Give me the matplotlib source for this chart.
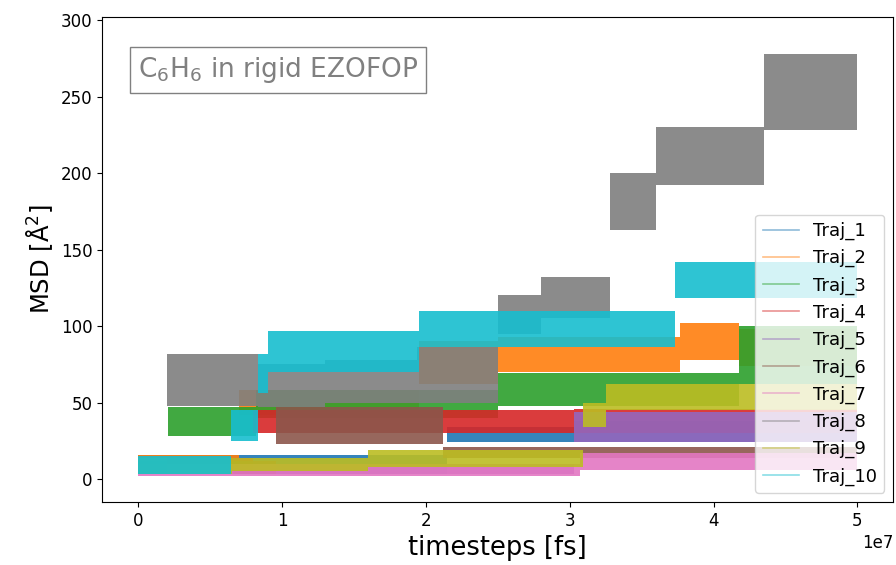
import numpy as np
import matplotlib.pyplot as plt
from matplotlib.lines import Line2D

# plateau edges (units of 1e7 fs) and the lower / upper MSD of each plateau
t1 = [0, 2.15, 3.03, 5.0]
lo1 = [3, 24, 24]
hi1 = [16, 34, 38]

t2 = [0, 0.7, 1.95, 2.5, 3.77, 4.18, 5.0]
lo2 = [4, 42, 62, 70, 78, 74]
hi2 = [16, 58, 90, 93, 102, 98]

t3 = [0, 0.21, 0.82, 2.5, 4.18, 5.0]
lo3 = [3, 28, 40, 48, 62]
hi3 = [14, 47, 58, 69, 100]

t4 = [0, 0.8, 3.03, 5.0]
lo4 = [3, 30, 30]
hi4 = [14, 45, 46]

t5 = [0, 3.03, 5.0]
lo5 = [3, 24]
hi5 = [10, 44]

t6 = [0, 0.96, 2.12, 5.0]
lo6 = [3, 23, 14]
hi6 = [12, 47, 21]

t7 = [0, 3.07, 5.0]
lo7 = [2, 6]
hi7 = [10, 17]

t8 = [0, 0.2, 0.83, 1.3, 1.94, 2.5, 2.8, 3.28, 3.6, 4.35, 5.0]
lo8 = [3, 48, 47, 50, 50, 95, 105, 163, 192, 228]
hi8 = [14, 82, 75, 78, 86, 120, 132, 200, 230, 278]

t9 = [0, 0.65, 1.6, 3.09, 3.25, 5.0]
lo9 = [3, 5, 8, 34, 45]
hi9 = [14, 14, 19, 50, 62]

t10 = [0, 0.645, 0.83, 0.9, 1.95, 3.73, 5.0]
lo10 = [3, 25, 56, 70, 86, 118]
hi10 = [15, 45, 82, 97, 110, 142]

trajs = [(t1, lo1, hi1), (t2, lo2, hi2), (t3, lo3, hi3), (t4, lo4, hi4),
         (t5, lo5, hi5), (t6, lo6, hi6), (t7, lo7, hi7), (t8, lo8, hi8),
         (t9, lo9, hi9), (t10, lo10, hi10)]
labels = ["Traj_%d" % i for i in range(1, 11)]
colors = plt.rcParams['axes.prop_cycle'].by_key()['color']

fig = plt.figure(figsize=(8.96, 5.65), dpi=100)
ax = fig.add_axes([0.114, 0.1115, 0.883, 0.8585])

handles = []
for (t, lo, hi), lab, c in zip(trajs, labels, colors):
    x = np.array(t) * 1e7
    ax.fill_between(x, lo + [lo[-1]], hi + [hi[-1]], step='post',
                    color=c, alpha=0.9, lw=0)
    handles.append(Line2D([], [], color=c, alpha=0.5, lw=1.2, label=lab))

ax.set_xlim(-0.25e7, 5.25e7)
ax.set_ylim(-15, 302)
ax.tick_params(labelsize=12)
ax.xaxis.get_offset_text().set_fontsize(12)
ax.set_xlabel("timesteps [fs]", fontsize=18.5)
ax.set_ylabel("MSD [Å$^2$]", fontsize=17.5)

ax.text(0.045, 0.922, "C$_6$H$_6$ in rigid EZOFOP", transform=ax.transAxes,
        fontsize=19, color='gray', va='top', ha='left',
        bbox=dict(boxstyle='square,pad=0.3', facecolor='white', edgecolor='gray'))

ax.legend(handles=handles, loc='lower right', fontsize=13)

fig.savefig("out.png", dpi=100)
